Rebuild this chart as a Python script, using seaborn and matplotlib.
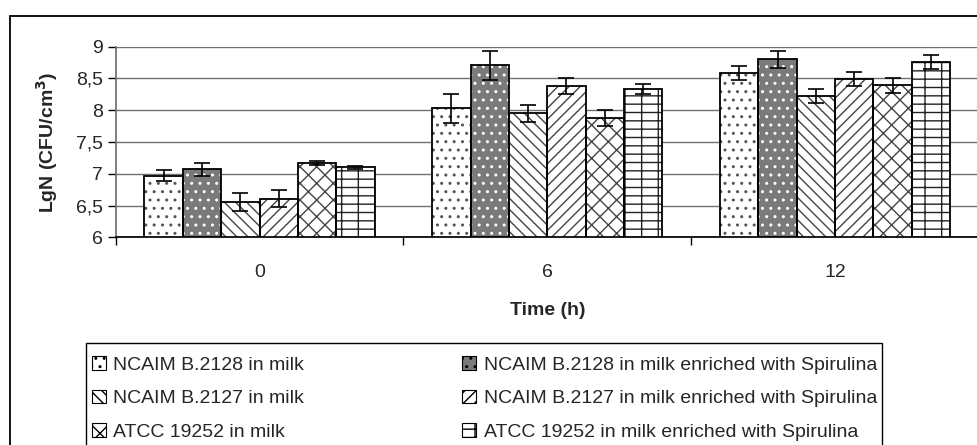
import numpy as np
import pandas as pd
import matplotlib
matplotlib.use("Agg")
import matplotlib.pyplot as plt
from matplotlib.patches import Patch, Rectangle
import seaborn as sns

# -------------------------------------------------------
# Data
# -------------------------------------------------------
times = ["0", "6", "12"]
series = [
    "NCAIM B.2128 in milk",
    "NCAIM B.2128 in milk enriched with Spirulina",
    "NCAIM B.2127 in milk",
    "NCAIM B.2127 in milk enriched with Spirulina",
    "ATCC 19252 in milk",
    "ATCC 19252 in milk enriched with Spirulina",
]
means = [
    [6.97, 8.03, 8.58],
    [7.07, 8.71, 8.80],
    [6.56, 7.95, 8.22],
    [6.61, 8.38, 8.49],
    [7.17, 7.88, 8.39],
    [7.10, 8.33, 8.76],
]
errors = [
    [0.09, 0.23, 0.11],
    [0.10, 0.23, 0.14],
    [0.14, 0.13, 0.11],
    [0.13, 0.13, 0.11],
    [0.03, 0.12, 0.12],
    [0.03, 0.08, 0.11],
]
y_ticks = [6, 6.5, 7, 7.5, 8, 8.5, 9]
y_ticklabels = ["6", "6,5", "7", "7,5", "8", "8,5", "9"]

# bar styles (fill, hatch, hatch colour)
faces = ["white", "#7a7a7a", "white", "white", "white", "white"]
hatches = ["..", "..", "\\\\\\", "///", "xx", "--|"]
hatch_colors = ["#555555", "white", "#444444", "#444444", "#444444", "#222222"]

df = pd.DataFrame(
    [(t, s, m) for s, row in zip(series, means) for t, m in zip(times, row)],
    columns=["time", "series", "lgN"],
)

# -------------------------------------------------------
# Plot
# -------------------------------------------------------
sns.set_theme(style="white")
plt.rcParams["font.family"] = ["Liberation Sans", "DejaVu Sans"]
plt.rcParams["hatch.linewidth"] = 1.0

W, H = 977, 445
fig = plt.figure(figsize=(W / 100, H / 100), dpi=100)
ax = fig.add_axes([0.1184, 0.4667, 0.8836, 0.4283])

sns.barplot(
    data=df, x="time", y="lgN", hue="series",
    order=times, hue_order=series, errorbar=None,
    width=0.8, legend=False, ax=ax,
)

for cont, fc, h, hc, err in zip(ax.containers, faces, hatches, hatch_colors, errors):
    xs, ys = [], []
    for p in cont.patches:
        p.set_facecolor(fc)
        p.set_edgecolor(hc)
        p.set_hatch(h)
        p.set_linewidth(0)
        # black outline over the hatched bar
        ax.add_patch(Rectangle((p.get_x(), p.get_y()), p.get_width(), p.get_height(),
                               fill=False, edgecolor="black", linewidth=1.3, zorder=3))
        xs.append(p.get_x() + p.get_width() / 2)
        ys.append(p.get_height())
    ax.errorbar(xs, ys, yerr=err, fmt="none", ecolor="black",
                elinewidth=1.2, capsize=6, capthick=1.2, zorder=4)

ax.set_ylim(6, 9)
ax.set_yticks(y_ticks)
ax.set_yticklabels(y_ticklabels)
ax.set_xlim(-0.5, 2.5)
ax.yaxis.grid(True, color="#707070", linewidth=1)
ax.set_axisbelow(True)

for side in ["top", "right"]:
    ax.spines[side].set_visible(False)
ax.spines["left"].set_color("#707070")
ax.spines["bottom"].set_color("black")

ax.tick_params(axis="y", direction="out", length=6, width=1, color="black",
               labelsize=14, pad=3, left=True)
ax.tick_params(axis="x", which="major", length=0, labelsize=14, pad=19)
ax.set_xticks([-0.5, 0.5, 1.5, 2.5], minor=True)
ax.tick_params(axis="x", which="minor", direction="out", length=6, width=1,
               color="black", bottom=True)

ax.set_xlabel("Time (h)", fontsize=14, fontweight="bold", labelpad=15)
ax.set_ylabel("LgN (CFU/cm$^\\mathbf{3}$)", fontsize=14, fontweight="bold", labelpad=12)

# legend (entries without frame, frame drawn separately so it runs off the bottom)
handles = [Patch(facecolor=fc, edgecolor="black", hatch=h, linewidth=0.8)
           for fc, h in zip(faces, hatches)]
order = [0, 2, 4, 1, 3, 5]
leg = fig.legend(
    [handles[i] for i in order], [series[i] for i in order],
    ncol=2, mode="expand", loc="upper left",
    bbox_to_anchor=(92 / W, 1 - 356 / H, 785 / W, 0),
    fontsize=14, frameon=False,
    handlelength=0.7, handleheight=0.7, handletextpad=0.4,
    labelspacing=0.82, borderpad=0, borderaxespad=0,
)
fig.patches.append(Rectangle((86 / W, -0.1), 796 / W, 0.1 + 1 - 343 / H,
                             transform=fig.transFigure, fill=False,
                             edgecolor="black", linewidth=1.0))

# outer chart border
fig.patches.append(Rectangle((10 / W, -0.05), 1.0, 1 - 15.5 / H + 0.05,
                             transform=fig.transFigure, fill=False,
                             edgecolor="black", linewidth=1.3))

fig.savefig("out.png", dpi=100, facecolor="white")
